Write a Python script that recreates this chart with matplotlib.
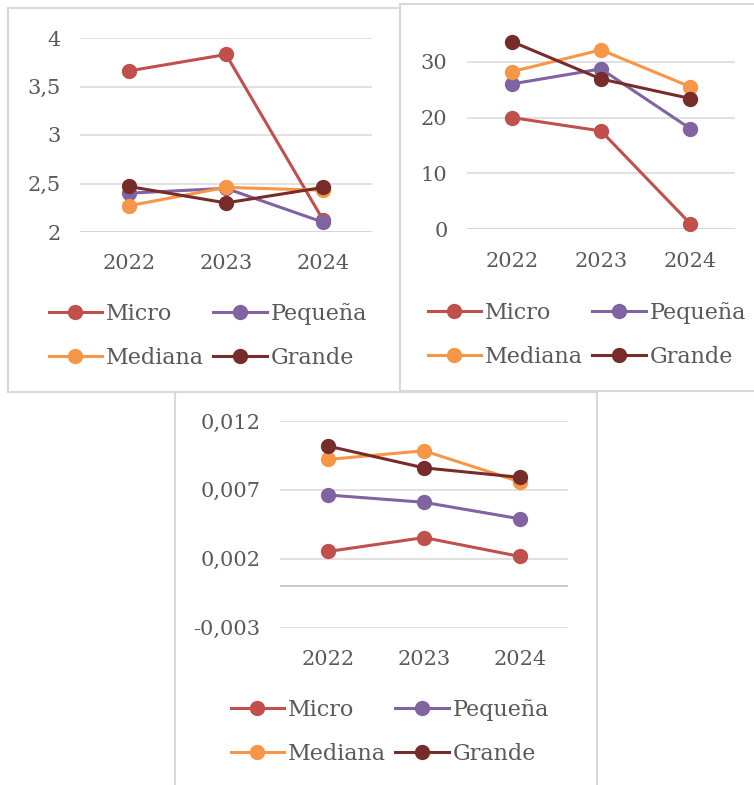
import matplotlib.pyplot as plt
import matplotlib.patches as mpatches
from matplotlib.ticker import FuncFormatter
import numpy as np

plt.rcParams['font.family'] = ['DejaVu Serif']

years = ['2022', '2023', '2024']
series = ['Micro', 'Pequeña', 'Mediana', 'Grande']
colors = ['#C0504D', '#8064A2', '#F79646', '#772C2A']

# panel 1 (top left)
p1_micro = [3.66, 3.83, 2.12]
p1_pequena = [2.40, 2.45, 2.10]
p1_mediana = [2.27, 2.46, 2.43]
p1_grande = [2.47, 2.30, 2.46]

# panel 2 (top right)
p2_micro = [20.0, 17.6, 1.0]
p2_pequena = [26.0, 28.7, 18.0]
p2_mediana = [28.2, 32.1, 25.5]
p2_grande = [33.6, 26.9, 23.4]

# panel 3 (bottom)
p3_micro = [0.00253, 0.00354, 0.00217]
p3_pequena = [0.00663, 0.0061, 0.0049]
p3_mediana = [0.00921, 0.00984, 0.00759]
p3_grande = [0.01018, 0.0086, 0.00791]

W, H = 754, 785
fig = plt.figure(figsize=(W / 100, H / 100), dpi=100)

def box(x0, y0, x1, y1):
    r = mpatches.Rectangle((x0 / W, 1 - y1 / H), (x1 - x0) / W, (y1 - y0) / H,
                           transform=fig.transFigure, facecolor='white',
                           edgecolor='#D9D9D9', linewidth=1.5, zorder=-5)
    fig.patches.append(r)

def fig_axes(x0, y0, x1, y1):
    return fig.add_axes([x0 / W, 1 - y1 / H, (x1 - x0) / W, (y1 - y0) / H])

def comma(v, pos):
    s = ('%.3f' % v).rstrip('0').rstrip('.') if abs(v) < 0.1 else ('%g' % v)
    return s.replace('.', ',')

def panel(ax, data, ylim, yticks, fmt, leg_center):
    x = np.arange(len(years))
    handles = []
    for vals, c, name in zip(data, colors, series):
        h, = ax.plot(x, vals, color=c, lw=2.2, marker='o', markersize=10,
                     label=name, zorder=3, clip_on=False)
        handles.append(h)
    ax.set_xlim(-0.5, len(years) - 0.5)
    ax.set_ylim(*ylim)
    ax.set_yticks(yticks)
    ax.yaxis.set_major_formatter(FuncFormatter(fmt))
    ax.set_xticks(x)
    ax.set_xticklabels(years)
    ax.grid(axis='y', color='#D9D9D9', lw=1.1, zorder=0)
    ax.axhline(0 if ylim[0] < 0 else ylim[0], color='#BFBFBF', lw=1.2, zorder=1)
    for s in ax.spines.values():
        s.set_visible(False)
    ax.tick_params(length=0, labelsize=15, colors='#595959', pad=14)
    ax.tick_params(axis='x', pad=16)
    ax.set_facecolor('none')
    order = [0, 2, 1, 3]
    leg = fig.legend([handles[i] for i in order], [series[i] for i in order],
                     ncol=2, loc='center',
                     bbox_to_anchor=(leg_center[0] / W, 1 - leg_center[1] / H),
                     frameon=False, fontsize=16, handlelength=2.4,
                     handletextpad=0.2, columnspacing=0.4, labelspacing=1.0,
                     borderpad=0)
    for t in leg.get_texts():
        t.set_color('#595959')

# frames
box(8, 8, 410, 392)
box(400, 4, 760, 391)
box(175, 392, 597, 800)

ax1 = fig_axes(80, 38, 372, 232)
panel(ax1, [p1_micro, p1_pequena, p1_mediana, p1_grande], (2, 4),
      [2, 2.5, 3, 3.5, 4], comma, (208, 336))

ax2 = fig_axes(467, 33.7, 735, 229.3)
panel(ax2, [p2_micro, p2_pequena, p2_mediana, p2_grande], (0, 35),
      [0, 10, 20, 30], comma, (587, 335))

ax3 = fig_axes(280, 421, 568, 627.7)
panel(ax3, [p3_micro, p3_pequena, p3_mediana, p3_grande], (-0.003, 0.012),
      [-0.003, 0.002, 0.007, 0.012], comma, (390, 732))

fig.savefig('out.png', dpi=100)
